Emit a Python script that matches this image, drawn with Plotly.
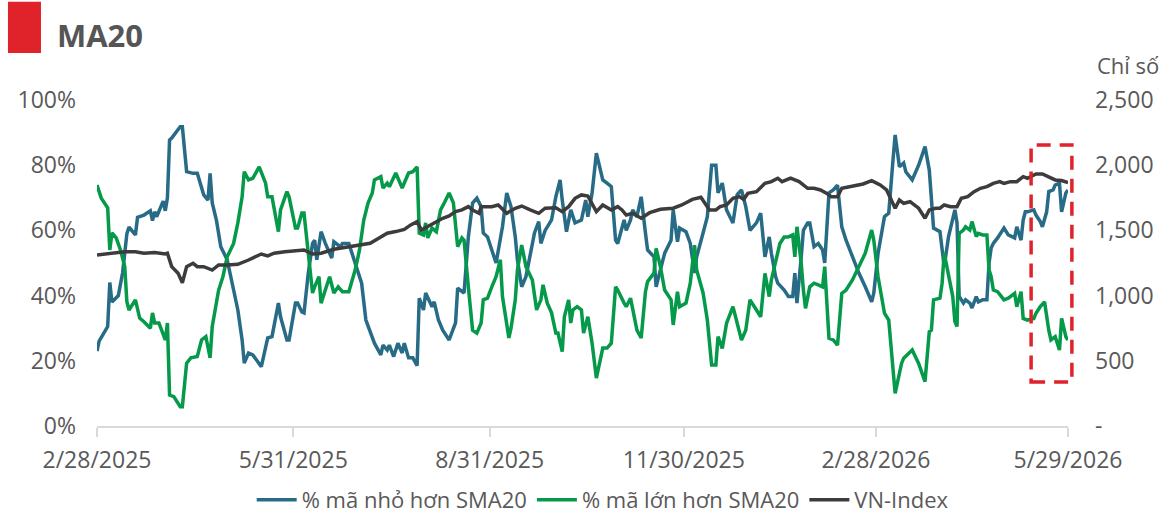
import plotly.graph_objects as go

# % of tickers below / above their 20-day SMA, and the VN-Index
below_dates = [
    "2025-02-28", "2025-03-01", "2025-03-05", "2025-03-06", "2025-03-07", "2025-03-10", "2025-03-12",
    "2025-03-14", "2025-03-15", "2025-03-18", "2025-03-19", "2025-03-22", "2025-03-25", "2025-03-26",
    "2025-03-27", "2025-03-28", "2025-03-31", "2025-04-01", "2025-04-02", "2025-04-03", "2025-04-04",
    "2025-04-08", "2025-04-09", "2025-04-11", "2025-04-14", "2025-04-16", "2025-04-19", "2025-04-21",
    "2025-04-22", "2025-04-23", "2025-04-25", "2025-04-27", "2025-04-30", "2025-05-02", "2025-05-05",
    "2025-05-07", "2025-05-08", "2025-05-10", "2025-05-12", "2025-05-14", "2025-05-16", "2025-05-19",
    "2025-05-21", "2025-05-24", "2025-05-25", "2025-05-28", "2025-05-29", "2025-06-01", "2025-06-02",
    "2025-06-04", "2025-06-05", "2025-06-07", "2025-06-09", "2025-06-10", "2025-06-11", "2025-06-13",
    "2025-06-15", "2025-06-18", "2025-06-19", "2025-06-22", "2025-06-23", "2025-06-26", "2025-06-29",
    "2025-07-02", "2025-07-04", "2025-07-08", "2025-07-11", "2025-07-12", "2025-07-14", "2025-07-15",
    "2025-07-17", "2025-07-19", "2025-07-21", "2025-07-22", "2025-07-24", "2025-07-26", "2025-07-28",
    "2025-07-29", "2025-07-31", "2025-08-01", "2025-08-04", "2025-08-05", "2025-08-07", "2025-08-09",
    "2025-08-12", "2025-08-15", "2025-08-16", "2025-08-18", "2025-08-19", "2025-08-21", "2025-08-23",
    "2025-08-25", "2025-08-27", "2025-08-28", "2025-08-30", "2025-09-01", "2025-09-03", "2025-09-06",
    "2025-09-08", "2025-09-10", "2025-09-12", "2025-09-13", "2025-09-15", "2025-09-17", "2025-09-19",
    "2025-09-21", "2025-09-23", "2025-09-24", "2025-09-26", "2025-09-29", "2025-10-01", "2025-10-03",
    "2025-10-04", "2025-10-06", "2025-10-08", "2025-10-10", "2025-10-13", "2025-10-15", "2025-10-16",
    "2025-10-18", "2025-10-20", "2025-10-23", "2025-10-25", "2025-10-27", "2025-10-29", "2025-10-30",
    "2025-11-02", "2025-11-03", "2025-11-05", "2025-11-06", "2025-11-08", "2025-11-10", "2025-11-12",
    "2025-11-13", "2025-11-16", "2025-11-17", "2025-11-19", "2025-11-21", "2025-11-24", "2025-11-25",
    "2025-11-27", "2025-11-28", "2025-12-01", "2025-12-03", "2025-12-05", "2025-12-06", "2025-12-09",
    "2025-12-11", "2025-12-13", "2025-12-15", "2025-12-16", "2025-12-18", "2025-12-20", "2025-12-23",
    "2025-12-25", "2025-12-27", "2025-12-29", "2025-12-31", "2026-01-03", "2026-01-05", "2026-01-07",
    "2026-01-09", "2026-01-10", "2026-01-12", "2026-01-13", "2026-01-16", "2026-01-18", "2026-01-20",
    "2026-01-21", "2026-01-22", "2026-01-24", "2026-01-25", "2026-01-27", "2026-01-28", "2026-01-30",
    "2026-02-01", "2026-02-03", "2026-02-04", "2026-02-06", "2026-02-08", "2026-02-10", "2026-02-12",
    "2026-02-14", "2026-02-17", "2026-02-20", "2026-02-23", "2026-02-26", "2026-02-27", "2026-03-01",
    "2026-03-04", "2026-03-06", "2026-03-08", "2026-03-09", "2026-03-11", "2026-03-13", "2026-03-14",
    "2026-03-17", "2026-03-20", "2026-03-23", "2026-03-25", "2026-03-26", "2026-03-27", "2026-03-30",
    "2026-03-31", "2026-04-01", "2026-04-03", "2026-04-05", "2026-04-06", "2026-04-07", "2026-04-08",
    "2026-04-10", "2026-04-11", "2026-04-13", "2026-04-14", "2026-04-16", "2026-04-17", "2026-04-19",
    "2026-04-21", "2026-04-22", "2026-04-23", "2026-04-24", "2026-04-26", "2026-04-29", "2026-05-01",
    "2026-05-04", "2026-05-05", "2026-05-07", "2026-05-08", "2026-05-09", "2026-05-10", "2026-05-13",
    "2026-05-14", "2026-05-16", "2026-05-17", "2026-05-19", "2026-05-20", "2026-05-22", "2026-05-23",
    "2026-05-25", "2026-05-26", "2026-05-28", "2026-05-29",
]
below_pct = [
    23, 26, 30.5, 44, 38, 40, 47,
    59, 61, 58.6, 64, 64.7, 66, 63,
    65.7, 64.2, 69, 66, 70, 87.7, 88.3,
    91.8, 91.8, 78, 77.5, 77.5, 70.9, 69.3,
    77.5, 68.4, 63, 55, 51, 44.8, 35.6,
    26.4, 19.3, 22.4, 21.8, 20, 18.2, 27,
    27.4, 37.7, 33.5, 26.4, 26.4, 37.7, 37.7,
    35, 34.7, 46.9, 56, 57, 51, 59.6,
    56, 51.5, 56.5, 55, 56, 56, 50,
    43.8, 32.5, 25.4, 21.8, 24.8, 23.3, 24.8,
    21.3, 25.4, 22.4, 25.4, 20.9, 20.9, 18.5,
    39.2, 35.6, 40.8, 36.6, 38.1, 32.5, 29.4,
    26.4, 31.6, 42.3, 41.2, 40.8, 58, 68.4,
    69.9, 67.3, 59.2, 58, 54, 50, 61.1,
    71.5, 67.3, 58, 51, 42.7, 45.8, 53,
    59.2, 62.7, 56, 60, 63.2, 70.3, 75.5,
    69.3, 59.6, 66.3, 62.3, 63.2, 69.3, 64.2,
    71.5, 83.7, 75.5, 74.5, 73.4, 57, 56,
    63.2, 60, 63.2, 66.3, 64.2, 70.3, 59.2,
    54, 51.9, 42.7, 47.9, 53, 57, 66.3,
    56.5, 60.7, 59.6, 56, 46.9, 51.9, 59.2,
    64.2, 80, 80, 71.5, 74.5, 66.3, 62.3,
    71, 72.4, 67.3, 60, 62.3, 65.3, 51.9,
    58, 53, 45.8, 43.8, 41.7, 39.7, 39.7,
    46.9, 37.7, 51.9, 60, 62.3, 62.3, 55,
    56, 54, 50, 71.5, 72.4, 73.9, 61.1,
    57, 51.9, 46.9, 42.7, 38.1, 40.8, 53,
    64.2, 65.3, 81.6, 89.3, 79.5, 80.7, 78,
    75.5, 80, 85.7, 78.5, 67.3, 60.7, 59.6,
    54, 48.9, 58, 63.2, 66.3, 62.3, 39.7,
    37.7, 38.7, 37.7, 36.2, 39.7, 38.1, 38.7,
    38.7, 50, 54.6, 56, 57.7, 60.7, 58.6,
    57.7, 61.1, 57, 63.2, 65.7, 65.7, 66.3,
    64.7, 62.7, 61.1, 65.7, 71.9, 72.4, 73.9,
    74.5, 65.7, 71.5, 72.4,
]

above_dates = [
    "2025-02-28", "2025-03-02", "2025-03-05", "2025-03-06", "2025-03-07", "2025-03-09", "2025-03-11",
    "2025-03-13", "2025-03-14", "2025-03-15", "2025-03-18", "2025-03-20", "2025-03-22", "2025-03-25",
    "2025-03-26", "2025-03-27", "2025-03-29", "2025-04-01", "2025-04-02", "2025-04-03", "2025-04-05",
    "2025-04-08", "2025-04-09", "2025-04-11", "2025-04-13", "2025-04-16", "2025-04-18", "2025-04-20",
    "2025-04-22", "2025-04-23", "2025-04-26", "2025-04-28", "2025-04-30", "2025-05-03", "2025-05-05",
    "2025-05-07", "2025-05-08", "2025-05-10", "2025-05-12", "2025-05-14", "2025-05-15", "2025-05-18",
    "2025-05-19", "2025-05-21", "2025-05-24", "2025-05-25", "2025-05-28", "2025-05-29", "2025-06-01",
    "2025-06-02", "2025-06-04", "2025-06-05", "2025-06-07", "2025-06-09", "2025-06-10", "2025-06-12",
    "2025-06-13", "2025-06-16", "2025-06-17", "2025-06-19", "2025-06-21", "2025-06-23", "2025-06-26",
    "2025-06-29", "2025-07-01", "2025-07-03", "2025-07-05", "2025-07-07", "2025-07-08", "2025-07-11",
    "2025-07-12", "2025-07-14", "2025-07-15", "2025-07-18", "2025-07-21", "2025-07-24", "2025-07-26",
    "2025-07-28", "2025-07-29", "2025-07-31", "2025-08-01", "2025-08-02", "2025-08-04", "2025-08-06",
    "2025-08-08", "2025-08-10", "2025-08-12", "2025-08-14", "2025-08-16", "2025-08-18", "2025-08-19",
    "2025-08-21", "2025-08-23", "2025-08-25", "2025-08-27", "2025-08-28", "2025-08-30", "2025-09-01",
    "2025-09-03", "2025-09-05", "2025-09-06", "2025-09-09", "2025-09-10", "2025-09-12", "2025-09-13",
    "2025-09-15", "2025-09-17", "2025-09-20", "2025-09-22", "2025-09-24", "2025-09-25", "2025-09-27",
    "2025-09-29", "2025-10-01", "2025-10-02", "2025-10-04", "2025-10-05", "2025-10-07", "2025-10-08",
    "2025-10-09", "2025-10-11", "2025-10-13", "2025-10-14", "2025-10-16", "2025-10-18", "2025-10-20",
    "2025-10-23", "2025-10-25", "2025-10-27", "2025-10-29", "2025-10-30", "2025-11-02", "2025-11-03",
    "2025-11-05", "2025-11-06", "2025-11-08", "2025-11-10", "2025-11-12", "2025-11-13", "2025-11-16",
    "2025-11-17", "2025-11-19", "2025-11-21", "2025-11-24", "2025-11-25", "2025-11-27", "2025-11-28",
    "2025-12-01", "2025-12-03", "2025-12-05", "2025-12-06", "2025-12-09", "2025-12-11", "2025-12-13",
    "2025-12-15", "2025-12-16", "2025-12-18", "2025-12-20", "2025-12-23", "2025-12-25", "2025-12-27",
    "2025-12-29", "2025-12-31", "2026-01-03", "2026-01-05", "2026-01-07", "2026-01-09", "2026-01-10",
    "2026-01-12", "2026-01-14", "2026-01-16", "2026-01-18", "2026-01-20", "2026-01-21", "2026-01-22",
    "2026-01-24", "2026-01-25", "2026-01-26", "2026-01-28", "2026-01-30", "2026-02-01", "2026-02-03",
    "2026-02-04", "2026-02-06", "2026-02-08", "2026-02-10", "2026-02-12", "2026-02-14", "2026-02-17",
    "2026-02-20", "2026-02-23", "2026-02-26", "2026-02-27", "2026-03-01", "2026-03-04", "2026-03-06",
    "2026-03-08", "2026-03-09", "2026-03-12", "2026-03-13", "2026-03-17", "2026-03-20", "2026-03-23",
    "2026-03-25", "2026-03-26", "2026-03-27", "2026-03-30", "2026-03-31", "2026-04-01", "2026-04-03",
    "2026-04-05", "2026-04-06", "2026-04-07", "2026-04-08", "2026-04-10", "2026-04-11", "2026-04-13",
    "2026-04-14", "2026-04-16", "2026-04-17", "2026-04-19", "2026-04-21", "2026-04-22", "2026-04-23",
    "2026-04-24", "2026-04-26", "2026-04-29", "2026-05-01", "2026-05-04", "2026-05-05", "2026-05-07",
    "2026-05-08", "2026-05-10", "2026-05-13", "2026-05-14", "2026-05-16", "2026-05-18", "2026-05-20",
    "2026-05-21", "2026-05-23", "2026-05-25", "2026-05-26", "2026-05-28", "2026-05-29",
]
above_pct = [
    73.9, 69.9, 66.9, 54, 59.2, 57.7, 54,
    48.9, 38.1, 35.6, 38.7, 33.1, 32, 30,
    34.7, 31.6, 31.6, 26.4, 31.6, 9.5, 9,
    5.9, 5.9, 19.3, 20.9, 21.3, 26.4, 27.4,
    20.9, 30.5, 41.7, 45.8, 51.9, 56, 62.3,
    70.3, 78, 75.5, 76, 78.5, 79.5, 74.5,
    70.3, 70.3, 59.6, 66.3, 71.9, 70.3, 60.7,
    60.7, 65.3, 65.3, 51.9, 40.8, 42.7, 45.8,
    37.7, 43.8, 45.8, 40.8, 42.7, 41.2, 41.2,
    47.9, 54, 63.2, 68.4, 71.5, 75.5, 76.5,
    73, 74.5, 73.4, 77.6, 73, 77.6, 78,
    79.5, 59.2, 58.6, 62.3, 57.7, 60.7, 59.6,
    66.3, 68.8, 71.5, 68.4, 55, 57.7, 57,
    42.7, 29.4, 28.5, 31.6, 38.7, 39.2, 42.7,
    45.8, 51, 39.7, 27, 30, 38.7, 47.9,
    55.5, 48.9, 44.8, 35.6, 38.7, 43.3, 37.7,
    34.7, 28.5, 28.5, 22.8, 33.5, 38.7, 31.6,
    35.6, 36.6, 35.6, 28.5, 33.5, 25.4, 14.7,
    23.9, 23.9, 25.4, 42.7, 41.7, 37.7, 36.6,
    39.2, 35.6, 29.4, 27, 41.2, 44.3, 46.9,
    54.5, 48.9, 41.7, 38.7, 31, 41.2, 36.6,
    37.7, 43.8, 55.5, 47.9, 40.8, 32.5, 18.7,
    18.7, 27.4, 23.8, 31.5, 36.6, 31.5, 26.4,
    29.4, 38.7, 35.6, 33.5, 46.8, 39.7, 44.8,
    49.9, 56, 58, 58, 58.6, 51.9, 61.1,
    49.9, 41.7, 36.1, 42.7, 43.8, 43.3, 42.7,
    48.9, 26.9, 26.4, 24.8, 40.7, 41.7, 44.8,
    48.9, 53, 60.1, 57, 45.8, 34.6, 32.5,
    19.2, 10, 19.2, 20.8, 23.3, 19.2, 13.6,
    28.9, 29.4, 38.7, 39.2, 43.8, 53, 45.8,
    39.7, 32, 30.5, 59.1, 60.1, 61.1, 60.1,
    62.7, 58.1, 59.1, 58.6, 58.6, 47.9, 45.8,
    41.7, 41.2, 38.7, 39.2, 40.7, 36.6, 41.2,
    33, 32.5, 33, 34.6, 36.6, 38.1, 29.4,
    26.4, 27.4, 23.3, 33, 27.4, 26.4,
]

index_dates = [
    "2025-02-28", "2025-03-08", "2025-03-13", "2025-03-18", "2025-03-22", "2025-03-27", "2025-04-01",
    "2025-04-02", "2025-04-04", "2025-04-07", "2025-04-09", "2025-04-11", "2025-04-14", "2025-04-16",
    "2025-04-19", "2025-04-23", "2025-04-26", "2025-04-30", "2025-05-05", "2025-05-10", "2025-05-14",
    "2025-05-16", "2025-05-19", "2025-05-22", "2025-05-27", "2025-06-01", "2025-06-05", "2025-06-09",
    "2025-06-13", "2025-06-19", "2025-06-26", "2025-07-02", "2025-07-06", "2025-07-10", "2025-07-14",
    "2025-07-18", "2025-07-20", "2025-07-22", "2025-07-25", "2025-07-28", "2025-07-30", "2025-08-02",
    "2025-08-05", "2025-08-09", "2025-08-12", "2025-08-15", "2025-08-18", "2025-08-21", "2025-08-23",
    "2025-08-26", "2025-08-27", "2025-09-01", "2025-09-04", "2025-09-08", "2025-09-12", "2025-09-15",
    "2025-09-19", "2025-09-23", "2025-09-26", "2025-10-01", "2025-10-04", "2025-10-07", "2025-10-10",
    "2025-10-13", "2025-10-16", "2025-10-19", "2025-10-20", "2025-10-23", "2025-10-27", "2025-10-30",
    "2025-11-01", "2025-11-03", "2025-11-06", "2025-11-10", "2025-11-14", "2025-11-19", "2025-11-25",
    "2025-11-29", "2025-12-04", "2025-12-08", "2025-12-10", "2025-12-12", "2025-12-15", "2025-12-17",
    "2025-12-20", "2025-12-23", "2025-12-26", "2025-12-28", "2025-12-30", "2026-01-03", "2026-01-07",
    "2026-01-10", "2026-01-13", "2026-01-15", "2026-01-19", "2026-01-23", "2026-01-27", "2026-01-30",
    "2026-02-02", "2026-02-05", "2026-02-07", "2026-02-10", "2026-02-12", "2026-02-17", "2026-02-22",
    "2026-02-26", "2026-03-02", "2026-03-05", "2026-03-07", "2026-03-09", "2026-03-11", "2026-03-13",
    "2026-03-16", "2026-03-18", "2026-03-20", "2026-03-23", "2026-03-25", "2026-03-28", "2026-03-30",
    "2026-04-01", "2026-04-04", "2026-04-07", "2026-04-09", "2026-04-12", "2026-04-15", "2026-04-18",
    "2026-04-21", "2026-04-24", "2026-04-27", "2026-04-29", "2026-05-02", "2026-05-05", "2026-05-08",
    "2026-05-10", "2026-05-14", "2026-05-17", "2026-05-20", "2026-05-23", "2026-05-26", "2026-05-29",
]
vn_index = [
    1312, 1325, 1337, 1337, 1325, 1330, 1319,
    1325, 1222, 1171, 1099, 1222, 1248, 1222,
    1222, 1196, 1235, 1235, 1240, 1273, 1305,
    1319, 1304, 1325, 1337, 1345, 1350, 1319,
    1325, 1355, 1375, 1388, 1401, 1440, 1478,
    1491, 1503, 1508, 1542, 1567, 1503, 1529,
    1555, 1593, 1611, 1644, 1657, 1682, 1657,
    1631, 1682, 1682, 1695, 1631, 1670, 1687,
    1657, 1631, 1670, 1674, 1644, 1682, 1746,
    1772, 1764, 1682, 1644, 1695, 1657, 1682,
    1657, 1618, 1631, 1593, 1636, 1662, 1670,
    1695, 1738, 1754, 1708, 1657, 1657, 1682,
    1695, 1746, 1759, 1738, 1784, 1797, 1861,
    1874, 1900, 1874, 1900, 1874, 1823, 1823,
    1810, 1784, 1759, 1759, 1823, 1841, 1856,
    1882, 1849, 1810, 1746, 1670, 1733, 1708,
    1720, 1695, 1670, 1593, 1657, 1670, 1670,
    1695, 1682, 1682, 1746, 1759, 1797, 1823,
    1836, 1861, 1874, 1861, 1874, 1874, 1912,
    1900, 1933, 1933, 1912, 1887, 1882, 1866,
]

assert len(below_dates) == len(below_pct)
assert len(above_dates) == len(above_pct)
assert len(index_dates) == len(vn_index)

x_tickvals = ["2025-02-28", "2025-05-31", "2025-08-31", "2025-11-30", "2026-02-28", "2026-05-29"]
x_ticktext = ["2/28/2025", "5/31/2025", "8/31/2025", "11/30/2025", "2/28/2026", "5/29/2026"]
pct_ticks = [0, 20, 40, 60, 80, 100]
pct_ticktext = ["0%", "20%", "40%", "60%", "80%", "100%"]
idx_ticks = [0, 500, 1000, 1500, 2000, 2500]
idx_ticktext = ["-", "500", "1,000", "1,500", "2,000", "2,500"]

BLUE = "#286b86"
GREEN = "#05994a"
DARK = "#3d3b3b"
RED = "#e0222a"
TEXT = "#595959"
FONT = "Open Sans"

fig = go.Figure()
fig.add_trace(go.Scatter(x=below_dates, y=below_pct, name="% mã nhỏ hơn SMA20",
                         mode="lines", line=dict(color=BLUE, width=3.5)))
fig.add_trace(go.Scatter(x=above_dates, y=above_pct, name="% mã lớn hơn SMA20",
                         mode="lines", line=dict(color=GREEN, width=3.5)))
fig.add_trace(go.Scatter(x=index_dates, y=vn_index, name="VN-Index", yaxis="y2",
                         mode="lines", line=dict(color=DARK, width=3.5)))

fig.update_layout(
    width=1168,
    height=516,
    margin=dict(l=97, r=100, t=100, b=90),
    plot_bgcolor="white",
    paper_bgcolor="white",
    font=dict(family=FONT, color=TEXT, size=22),
    showlegend=True,
    legend=dict(orientation="h", x=0.516, xanchor="center", xref="container",
                y=0.031, yanchor="middle", yref="container",
                font=dict(size=22, color=TEXT), itemwidth=40, tracegroupgap=0),
    xaxis=dict(
        type="date",
        range=["2025-02-28", "2026-05-29"],
        tickvals=x_tickvals,
        ticktext=x_ticktext,
        tickfont=dict(size=23, color=TEXT),
        showgrid=False,
        zeroline=False,
        showline=True,
        linecolor="#d9d9d9",
        linewidth=2,
        ticks="outside",
        ticklen=9,
        tickwidth=2,
        tickcolor="#d9d9d9",
        ticklabelstandoff=3,
        automargin=False,
    ),
    yaxis=dict(
        range=[0, 100],
        tickvals=pct_ticks,
        ticktext=pct_ticktext,
        tickfont=dict(size=23, color=TEXT),
        showgrid=False,
        zeroline=False,
        showline=False,
        ticklabelstandoff=20,
        automargin=False,
    ),
    yaxis2=dict(
        overlaying="y",
        side="right",
        range=[0, 2500],
        tickvals=idx_ticks,
        ticktext=idx_ticktext,
        tickfont=dict(size=23, color=TEXT),
        showgrid=False,
        zeroline=False,
        showline=False,
        ticklabelstandoff=26,
        automargin=False,
    ),
)

# header: red block + title
fig.add_shape(type="rect", xref="paper", yref="paper",
              x0=-0.0917, x1=-0.0577, y0=1.144, y1=1.301,
              fillcolor=RED, line=dict(width=0), layer="above")
fig.add_annotation(text="<b>MA20</b>", xref="paper", yref="paper", x=-0.043, y=1.199,
                   xanchor="left", yanchor="middle", showarrow=False,
                   font=dict(size=31, color="#555555", family=FONT))
fig.add_annotation(text="Chỉ số", xref="paper", yref="paper", x=1.028, y=1.107,
                   xanchor="left", yanchor="middle", showarrow=False,
                   font=dict(size=22, color=TEXT, family=FONT))

# highlight box around the latest readings
fig.add_shape(type="rect", xref="paper", yref="paper",
              x0=0.962, x1=1.004, y0=0.135, y1=0.862,
              line=dict(color=RED, width=3.5, dash="14px,9px"), fillcolor="rgba(0,0,0,0)")

# the page's default 8px body margin would shift the whole figure
fig.write_html("out.html", config={"displayModeBar": False},
               post_script="document.body.style.margin = '0';")
